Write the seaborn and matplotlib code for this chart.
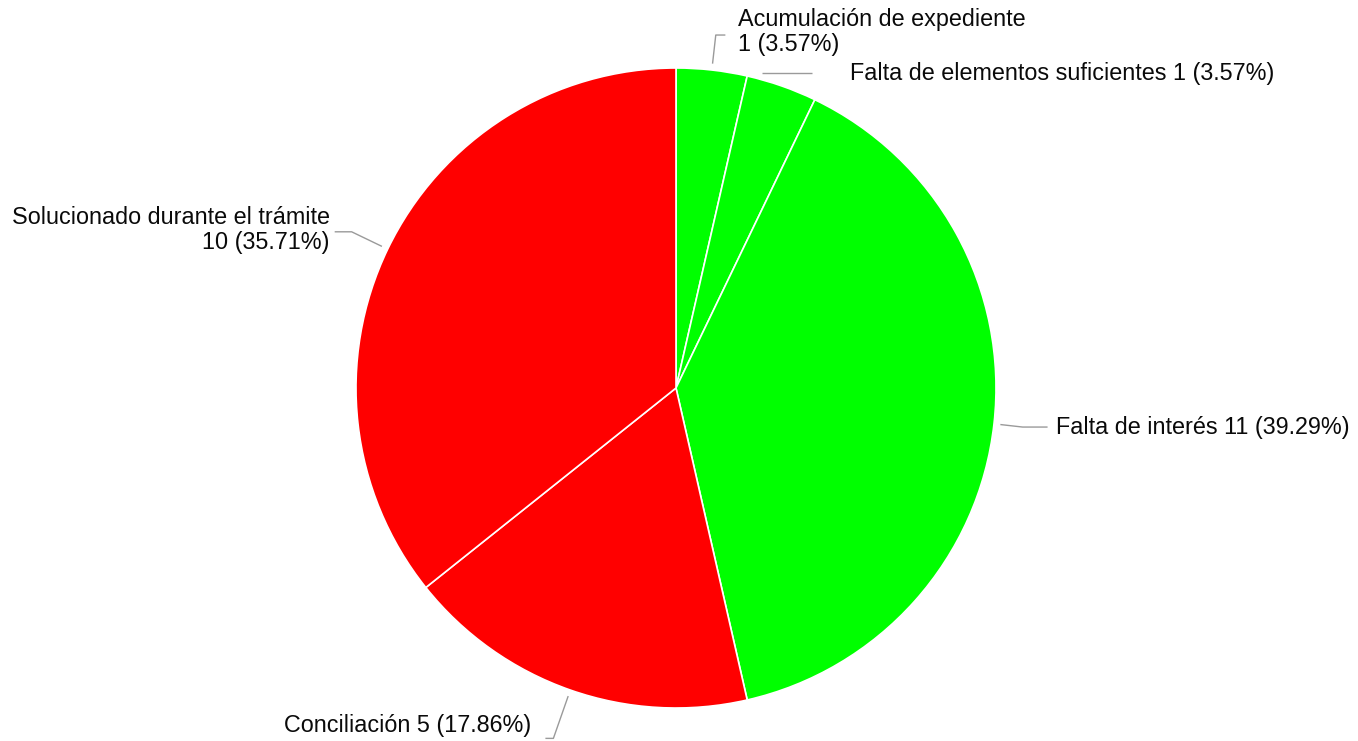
import numpy as np
import seaborn as sns
import matplotlib.pyplot as plt

# Data (clockwise from 12 o'clock)
categories = [
    "Acumulación de expediente",
    "Falta de elementos suficientes",
    "Falta de interés",
    "Conciliación",
    "Solucionado durante el trámite",
]
counts = [1, 1, 11, 5, 10]
slice_colors = ["#00FF00", "#00FF00", "#00FF00", "#FF0000", "#FF0000"]

# label layout: (angle override, elbow radius, horizontal run, text gap, text dy, two lines?)
label_style = [
    (None, 1.11, 0.03, 0.04, 0.01, True),
    (15.3, 1.02, 0.156, 0.12, 0.0, False),
    (None, 1.09, 0.078, 0.025, 0.0, False),
    (None, 1.16, 0.025, 0.044, 0.04, False),
    (None, 1.125, 0.053, 0.016, 0.005, True),
]

sns.set_theme(style="white")
plt.rcParams["font.family"] = ["Liberation Sans", "DejaVu Sans"]

fig = plt.figure(figsize=(13.58, 7.41), dpi=100)
ax = fig.add_axes([356 / 1358, 33 / 741, 640 / 1358, 640 / 741])

wedges, _ = ax.pie(
    counts,
    colors=slice_colors,
    startangle=90,
    counterclock=False,
    radius=1.0,
    wedgeprops={"edgecolor": "white", "linewidth": 1.2},
)
ax.set_xlim(-1, 1)
ax.set_ylim(-1, 1)
ax.set_aspect("equal")
ax.axis("off")

total = sum(counts)
for w, name, n, st in zip(wedges, categories, counts, label_style):
    ang_over, r_elbow, run, gap, dy, two_lines = st
    mid = np.deg2rad((w.theta1 + w.theta2) / 2)
    if ang_over is not None:
        mid = np.deg2rad(90 - ang_over)
    cx, cy = np.cos(mid), np.sin(mid)
    side = 1 if cx >= 0 else -1
    x0, y0 = 1.02 * cx, 1.02 * cy
    x1, y1 = r_elbow * cx, r_elbow * cy
    x2 = x1 + side * run
    ax.plot([x0, x1, x2], [y0, y1, y1], color="#9a9a9a", lw=1.0,
            clip_on=False, solid_capstyle="butt")
    pct = f"{n} ({n / total * 100:.2f}%)"
    text = f"{name}\n{pct}" if two_lines else f"{name} {pct}"
    ax.text(x2 + side * gap, y1 + dy, text,
            ha="left" if side > 0 else "right", va="center",
            fontsize=16.8, color="#0a0a0a", linespacing=1.12,
            multialignment="left" if side > 0 else "right")

fig.savefig("out.png", dpi=100)
